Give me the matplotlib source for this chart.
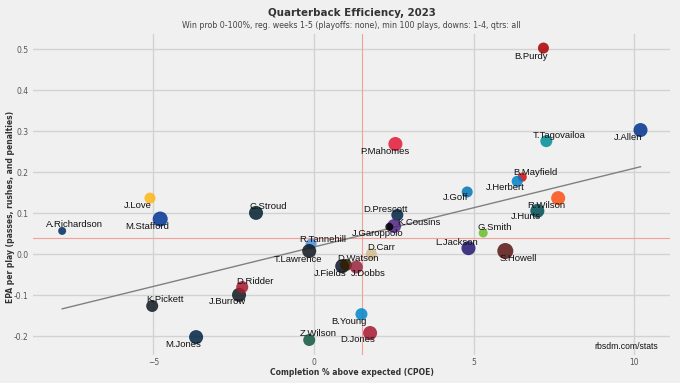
import matplotlib
matplotlib.use('Agg')
import matplotlib.pyplot as plt

# CPOE / EPA per play for qbs, weeks 1-5 2023
names = ['B.Purdy', 'J.Allen', 'T.Tagovailoa', 'P.Mahomes', 'B.Mayfield', 'J.Herbert',
         'J.Goff', 'R.Wilson', 'J.Hurts', 'D.Prescott', 'K.Cousins', 'J.Garoppolo',
         'G.Smith', 'L.Jackson', 'S.Howell', 'D.Carr', 'R.Tannehill', 'T.Lawrence',
         'J.Fields', 'D.Watson', 'J.Dobbs', 'C.Stroud', 'J.Love', 'M.Stafford',
         'A.Richardson', 'J.Burrow', 'D.Ridder', 'K.Pickett', 'M.Jones', 'Z.Wilson',
         'B.Young', 'D.Jones']
cpoe = [7.17, 10.20, 7.26, 2.55, 6.51, 6.35,
        4.79, 7.63, 6.98, 2.61, 2.51, 2.36,
        5.29, 4.83, 5.98, 1.80, -0.08, -0.14,
        0.89, 1.01, 1.33, -1.80, -5.11, -4.79,
        -7.85, -2.33, -2.23, -5.04, -3.67, -0.14,
        1.49, 1.76]
epa = [0.503, 0.303, 0.276, 0.269, 0.188, 0.178,
       0.152, 0.137, 0.106, 0.096, 0.069, 0.067,
       0.052, 0.015, 0.008, 0.001, 0.025, 0.008,
       -0.029, -0.026, -0.031, 0.101, 0.137, 0.086,
       0.057, -0.099, -0.080, -0.126, -0.202, -0.209,
       -0.146, -0.192]
plays = [150, 206, 167, 206, 120, 150,
         150, 206, 206, 167, 206, 107,
         120, 206, 250, 150, 150, 206,
         206, 167, 185, 206, 150, 227,
         107, 206, 167, 167, 206, 167,
         167, 206]
team_colors = ['#AA0000', '#00338D', '#008E97', '#E31837', '#D50A0A', '#0080C6',
               '#0076B6', '#FB4F14', '#004C54', '#002244', '#4F2683', '#000000',
               '#69BE28', '#241773', '#5A1414', '#D3BC8D', '#4B92DB', '#101820',
               '#0B162A', '#311D00', '#97233F', '#03202F', '#FFB612', '#003594',
               '#002C5F', '#101820', '#A71930', '#101820', '#002244', '#125740',
               '#0085CA', '#A71930']

avg_cpoe = 1.52
avg_epa = 0.040
fit_slope = 0.0192
fit_intercept = 0.0177

# label offsets in pixels (x right, y up)
offsets = {
    'B.Purdy': (-12, -8), 'J.Allen': (-12, -7), 'T.Tagovailoa': (13, 6),
    'P.Mahomes': (-11, -7), 'B.Mayfield': (13, 5), 'J.Herbert': (-12, -6),
    'J.Goff': (-12, -6), 'R.Wilson': (-12, -7), 'J.Hurts': (-11, -6),
    'D.Prescott': (-12, 5), 'K.Cousins': (25, 4), 'J.Garoppolo': (-12, -7),
    'G.Smith': (12, 5), 'L.Jackson': (-12, 6), 'S.Howell': (13, -7),
    'D.Carr': (10, 6), 'R.Tannehill': (12, 5), 'T.Lawrence': (-11, -8),
    'J.Fields': (-12, -7), 'D.Watson': (12, 6), 'J.Dobbs': (12, -6),
    'C.Stroud': (12, 6), 'J.Love': (-12, -7), 'M.Stafford': (-13, -7),
    'A.Richardson': (12, 6), 'J.Burrow': (-12, -7), 'D.Ridder': (13, 6),
    'K.Pickett': (13, 6), 'M.Jones': (-13, -7), 'Z.Wilson': (9, 6),
    'B.Young': (-12, -7), 'D.Jones': (-12, -6),
}

bg = '#F0F0F0'
fig = plt.figure(figsize=(6.8, 3.83), dpi=100, facecolor=bg)
ax = fig.add_axes([33/680, 28/383, 637/680, 321/383], facecolor=bg)

ax.set_xlim(-8.76, 11.12)
ax.set_ylim(-0.2456, 0.5373)
ax.set_xticks([-5, 0, 5, 10])
ax.set_yticks([-0.2, -0.1, 0.0, 0.1, 0.2, 0.3, 0.4, 0.5])
ax.set_yticklabels(['-0.2', '-0.1', '0.0', '0.1', '0.2', '0.3', '0.4', '0.5'])
ax.grid(True, color='#D2D2D2', linewidth=1.0)
ax.set_axisbelow(True)
for s in ax.spines.values():
    s.set_visible(False)
ax.tick_params(length=0, labelsize=5.5, labelcolor='#555555', pad=3)
ax.tick_params(axis='x', pad=2)

ax.axvline(avg_cpoe, color='#F4A09A', linewidth=0.8, zorder=1)
ax.axhline(avg_epa, color='#F4A09A', linewidth=0.8, zorder=1)

xs = [min(cpoe), max(cpoe)]
ax.plot(xs, [fit_intercept + fit_slope * v for v in xs], color='#808080', linewidth=1.0, zorder=2)

sizes = [(p - 60) * 0.7 for p in plays]
ax.scatter(cpoe, epa, s=sizes, c=team_colors, alpha=0.85, linewidths=0, zorder=3)

for n, x, y in zip(names, cpoe, epa):
    dx, dy = offsets[n]
    ax.annotate(n, (x, y), xytext=(dx, dy), textcoords='offset pixels',
                ha='center', va='center', fontsize=6.8, family='Liberation Sans',
                color='#111111', zorder=4)

ax.set_xlabel('Completion % above expected (CPOE)', fontsize=5.5, fontweight='bold',
              color='#333333')
ax.xaxis.set_label_coords(0.5, -0.041)
ax.set_ylabel('EPA per play (passes, rushes, and penalties)', fontsize=5.5,
              fontweight='bold', color='#333333')
ax.yaxis.set_label_coords(-0.029, 0.46)

ax.text(0.981, 0.025, 'rbsdm.com/stats', transform=ax.transAxes, ha='right', va='center',
        fontsize=6.2, family='Liberation Sans', color='#111111')

fig.text(0.517, 1 - 13/383, 'Quarterback Efficiency, 2023', ha='center', va='center',
         fontsize=7.4, fontweight='bold', color='#333333')
fig.text(0.517, 1 - 25/383, 'Win prob 0-100%, reg. weeks 1-5 (playoffs: none), min 100 plays, downs: 1-4, qtrs: all',
         ha='center', va='center', fontsize=5.65, color='#444444')

fig.savefig('out.png', dpi=100, facecolor=bg)
